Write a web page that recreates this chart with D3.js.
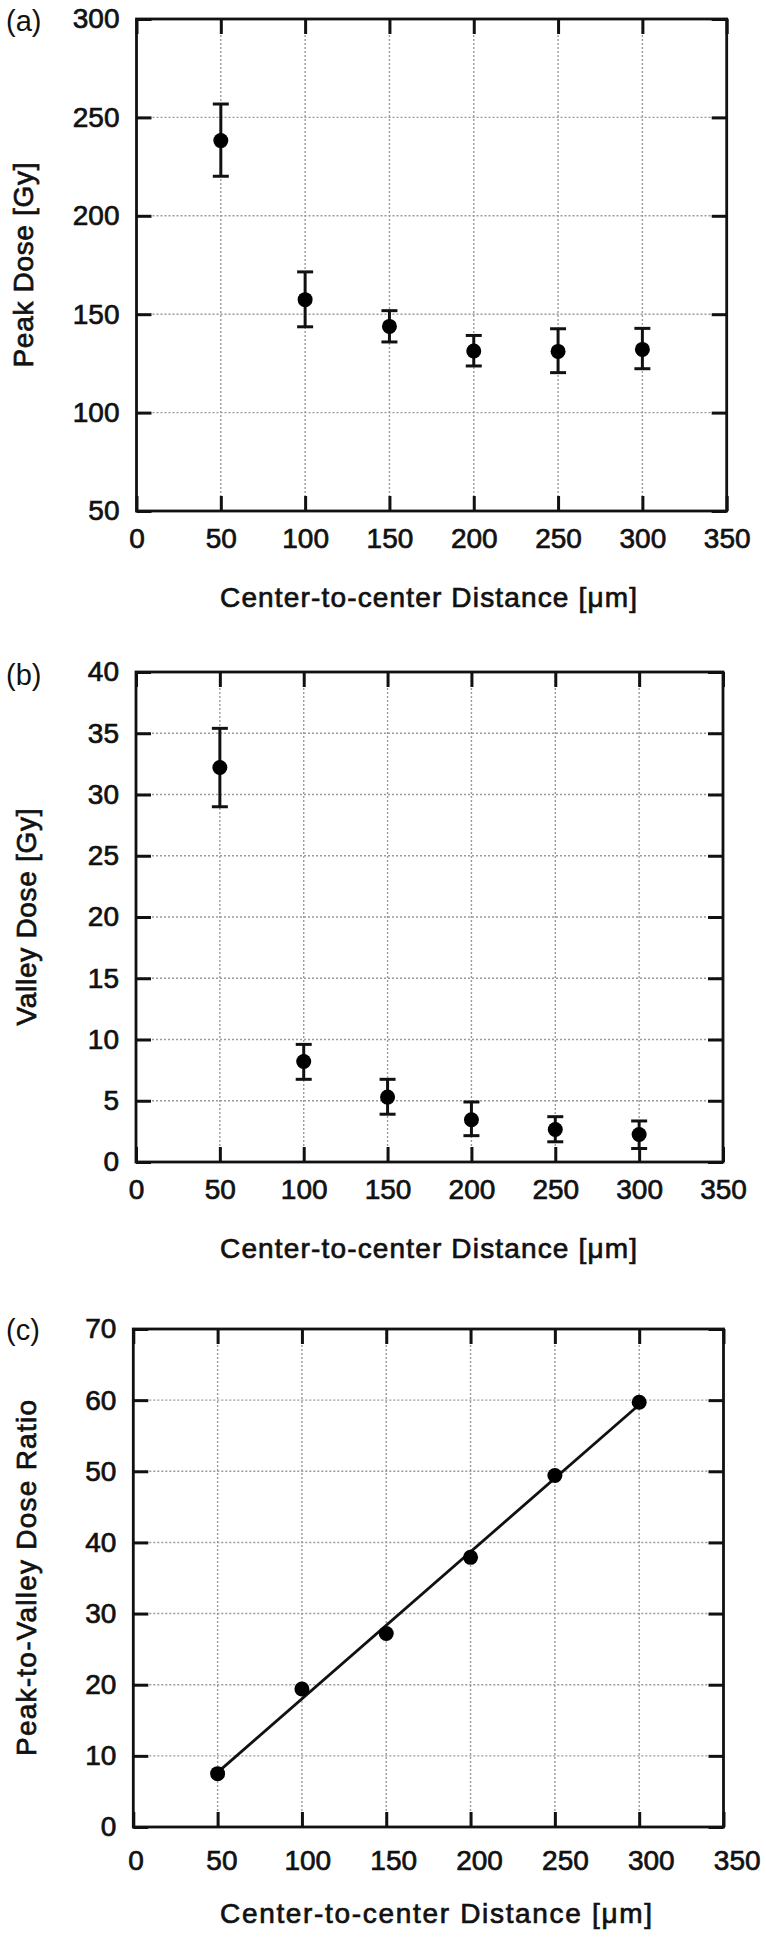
<!DOCTYPE html>
<html>
<head>
<meta charset="utf-8">
<script src="https://cdn.jsdelivr.net/npm/d3@7.9.0/dist/d3.min.js"></script>
<style>
  html, body { margin: 0; padding: 0; background: #fff; }
  svg { display: block; font-family: "Liberation Sans", Arial, sans-serif; }
</style>
</head>
<body>
<svg id="chart" width="766" height="1942"></svg>
<script>
// ── data ───────────────────────────────────────────────────────────────────
const distances = [50, 100, 150, 200, 250, 300];

const peakDose = [238.2, 157.4, 143.8, 131.3, 131.1, 132.1];
const peakHi = [256.8, 171.5, 151.8, 139.2, 142.6, 142.8];
const peakLo = [220.1, 143.6, 135.9, 123.7, 120.3, 122.3];

const valleyDose = [32.2, 8.2, 5.3, 3.45, 2.65, 2.25];
const valleyHi = [35.4, 9.6, 6.75, 4.9, 3.7, 3.35];
const valleyLo = [29.0, 6.75, 3.9, 2.15, 1.65, 1.1];

const ratio = [7.5, 19.4, 27.2, 37.9, 49.4, 59.7];

const xTicks = [0, 50, 100, 150, 200, 250, 300, 350];
const peakTicks = [50, 100, 150, 200, 250, 300];
const valleyTicks = [0, 5, 10, 15, 20, 25, 30, 35, 40];
const ratioTicks = [0, 10, 20, 30, 40, 50, 60, 70];

const xTitle = 'Center-to-center Distance [\u03bcm]';

// ── drawing ────────────────────────────────────────────────────────────────
const svg = d3.select('#chart');
const ink = '#111';

// slightly heavier text, like the scanned figure
const heavy = (t) => t.attr('fill', ink).attr('stroke', ink).attr('stroke-width', 0.7);

function drawPanel(p) {
  const x = d3.scaleLinear().domain([0, 350]).range([p.left, p.right]);
  const y = d3.scaleLinear().domain(p.yDomain).range([p.bottom, p.top]);
  const g = svg.append('g');

  // dotted grid
  const grid = g.append('g')
    .attr('stroke', '#9a9a9a')
    .attr('stroke-width', 1.4)
    .attr('stroke-dasharray', '2,2');
  grid.selectAll('.gx').data(xTicks.slice(1, -1)).join('line')
    .attr('x1', (d) => x(d)).attr('x2', (d) => x(d))
    .attr('y1', p.top).attr('y2', p.bottom);
  grid.selectAll('.gy').data(p.yTicks.slice(1, -1)).join('line')
    .attr('x1', p.left).attr('x2', p.right)
    .attr('y1', (d) => y(d)).attr('y2', (d) => y(d));

  // axes with inward ticks
  const styleAxis = (a) => {
    a.select('.domain').remove();
    a.attr('font-size', null).attr('font-family', null);
    a.selectAll('.tick line').attr('stroke', ink).attr('stroke-width', 3);
    a.selectAll('.tick text').call(heavy).style('font-size', '28px');
  };

  const xLab = d3.scaleLinear().domain([0, 350]).range(p.xLabRange || [p.left, p.right]);
  g.append('g').attr('transform', `translate(0,${p.bottom})`)
    .call(d3.axisBottom(x).tickValues(xTicks).tickSize(-15).tickSizeOuter(0).tickPadding(p.xPad))
    .call(styleAxis)
    .call((a) => a.selectAll('.tick text').attr('x', (d) => xLab(d) - x(d)));
  g.append('g').attr('transform', `translate(0,${p.top})`)
    .call(d3.axisTop(x).tickValues(xTicks).tickSize(-15).tickSizeOuter(0).tickFormat(''))
    .call(styleAxis);
  g.append('g').attr('transform', `translate(${p.left},0)`)
    .call(d3.axisLeft(y).tickValues(p.yTicks).tickSize(-15).tickSizeOuter(0).tickPadding(17))
    .call(styleAxis);
  g.append('g').attr('transform', `translate(${p.right},0)`)
    .call(d3.axisRight(y).tickValues(p.yTicks).tickSize(-15).tickSizeOuter(0).tickFormat(''))
    .call(styleAxis);

  // frame
  g.append('rect')
    .attr('x', p.left).attr('y', p.top)
    .attr('width', p.right - p.left).attr('height', p.bottom - p.top)
    .attr('fill', 'none').attr('stroke', ink).attr('stroke-width', 2.8);

  // fitted line (least squares)
  if (p.fit) {
    const mx = d3.mean(distances);
    const my = d3.mean(p.values);
    const slope = d3.sum(distances, (d, i) => (d - mx) * (p.values[i] - my)) /
      d3.sum(distances, (d) => (d - mx) ** 2);
    const icpt = my - slope * mx;
    const ends = [distances[0], distances[distances.length - 1]];
    g.append('path')
      .datum(ends)
      .attr('d', d3.line().x((d) => x(d)).y((d) => y(icpt + slope * d)))
      .attr('fill', 'none').attr('stroke', ink).attr('stroke-width', 2.8);
  }

  // error bars
  if (p.hi) {
    const eb = g.append('g').attr('stroke', ink).attr('stroke-width', 3);
    distances.forEach((d, i) => {
      eb.append('line')
        .attr('x1', x(d)).attr('x2', x(d))
        .attr('y1', y(p.lo[i])).attr('y2', y(p.hi[i]));
      [p.lo[i], p.hi[i]].forEach((v) => {
        eb.append('line')
          .attr('x1', x(d) - 8).attr('x2', x(d) + 8)
          .attr('y1', y(v)).attr('y2', y(v));
      });
    });
  }

  // points
  g.append('g').selectAll('circle').data(distances).join('circle')
    .attr('cx', (d) => x(d))
    .attr('cy', (d, i) => y(p.values[i]))
    .attr('r', 7.5)
    .attr('fill', '#000');

  // titles
  g.append('text')
    .attr('x', p.titleX).attr('y', p.bottom + 86).attr('dy', '0.35em')
    .attr('textLength', p.titleLen).attr('lengthAdjust', 'spacing')
    .call(heavy).style('font-size', '28px')
    .text(xTitle);
  g.append('text')
    .attr('transform', `translate(${p.yTitleX},${(p.top + p.bottom) / 2}) rotate(-90)`)
    .attr('text-anchor', 'middle').attr('dy', '0.35em')
    .attr('textLength', p.yTitleLen).attr('lengthAdjust', 'spacing')
    .call(heavy).style('font-size', '28px')
    .text(p.yTitle);
  g.append('text')
    .attr('x', 6).attr('y', p.tagY)
    .attr('fill', ink).style('font-size', '29px')
    .text(p.tag);
}

drawPanel({
  tag: '(a)', tagY: 31,
  left: 136.5, right: 726.7, top: 19, bottom: 511,
  yDomain: [50, 300], yTicks: peakTicks,
  values: peakDose, hi: peakHi, lo: peakLo,
  xPad: 17, titleX: 220, titleLen: 417,
  yTitle: 'Peak Dose [Gy]', yTitleX: 23, yTitleLen: 205,
});

drawPanel({
  tag: '(b)', tagY: 685,
  left: 136, right: 723, top: 672, bottom: 1162,
  yDomain: [0, 40], yTicks: valleyTicks,
  values: valleyDose, hi: valleyHi, lo: valleyLo,
  xPad: 17, titleX: 220, titleLen: 417,
  yTitle: 'Valley Dose [Gy]', yTitleX: 26, yTitleLen: 217,
});

drawPanel({
  tag: '(c)', tagY: 1340,
  left: 133.3, right: 723.5, top: 1329, bottom: 1827,
  yDomain: [0, 70], yTicks: ratioTicks,
  values: ratio, fit: true,
  xPad: 23, xLabRange: [135.5, 736.7], titleX: 220, titleLen: 432,
  yTitle: 'Peak-to-Valley Dose Ratio', yTitleX: 26, yTitleLen: 356,
});
</script>
</body>
</html>
